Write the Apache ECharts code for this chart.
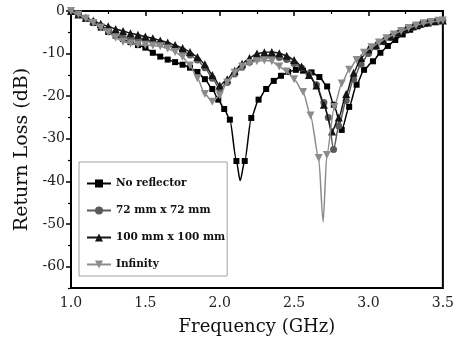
<!DOCTYPE html>
<html><head><meta charset="utf-8">
<script src="https://cdn.jsdelivr.net/npm/echarts@6/dist/echarts.min.js"></script>
<style>html,body{margin:0;padding:0;background:#fff}#c{width:457px;height:347px}</style>
</head><body><div id="c"></div>
<script>
// ---- data ----
const seriesNames = ['No reflector', '72 mm x 72 mm', '100 mm x 100 mm', 'Infinity'];

const noRefFreq = [1.00,1.05,1.10,1.15,1.20,1.25,1.30,1.35,1.40,1.45,1.50,1.55,1.60,1.65,1.70,1.75,1.80,1.85,1.90,1.95,1.99,2.03,2.068,2.112,2.168,2.212,2.261,2.312,2.363,2.412,2.46,2.512,2.56,2.617,2.67,2.722,2.767,2.82,2.87,2.92,2.97,3.03,3.08,3.13,3.18,3.23,3.28,3.33,3.38,3.43,3.48];
const noRefLoss = [0,-0.8,-1.8,-2.8,-3.9,-4.9,-5.8,-6.6,-7.3,-8.0,-8.6,-9.8,-10.7,-11.4,-12.0,-12.6,-13.3,-14.3,-16.0,-18.3,-20.8,-23.0,-25.5,-35.2,-35.2,-25.1,-20.8,-18.3,-16.4,-15.2,-14.3,-13.8,-14.0,-14.4,-15.5,-17.7,-22.0,-27.9,-22.5,-17.3,-13.8,-11.8,-9.8,-8.2,-6.8,-5.5,-4.4,-3.6,-3.0,-2.6,-2.3];
const noRefDipFreq = [2.137];
const noRefDipLoss = [-39.8];

const r72Freq = [1.00,1.05,1.10,1.15,1.20,1.25,1.30,1.35,1.40,1.45,1.50,1.55,1.60,1.65,1.70,1.75,1.80,1.85,1.90,1.95,2.00,2.05,2.10,2.15,2.20,2.25,2.30,2.35,2.40,2.45,2.50,2.55,2.60,2.65,2.70,2.73,2.765,2.80,2.85,2.90,2.95,3.00,3.05,3.10,3.15,3.20,3.25,3.30,3.35,3.40,3.45,3.50];
const r72Loss = [0,-0.8,-1.7,-2.6,-3.5,-4.4,-5.5,-6.2,-6.5,-6.6,-6.8,-7.1,-7.5,-8.0,-8.6,-9.3,-10.3,-11.5,-13.3,-15.8,-18.3,-16.8,-14.8,-13.2,-12.0,-11.2,-10.8,-10.7,-10.9,-11.4,-12.3,-13.4,-14.8,-17.3,-21.5,-25.0,-32.5,-27.0,-21.0,-16.0,-12.5,-10.0,-8.4,-7.2,-6.2,-5.3,-4.5,-3.8,-3.2,-2.8,-2.5,-2.3];

const r100Freq = [1.00,1.05,1.10,1.15,1.20,1.25,1.30,1.35,1.40,1.45,1.50,1.55,1.60,1.65,1.70,1.75,1.80,1.85,1.90,1.95,2.00,2.05,2.10,2.15,2.20,2.25,2.30,2.35,2.40,2.45,2.50,2.55,2.60,2.65,2.70,2.755,2.80,2.85,2.90,2.95,3.00,3.05,3.10,3.15,3.20,3.25,3.30,3.35,3.40,3.45,3.50];
const r100Loss = [0,-0.8,-1.6,-2.3,-3.0,-3.6,-4.2,-4.7,-5.2,-5.6,-6.0,-6.4,-6.9,-7.4,-8.0,-8.7,-9.6,-10.8,-12.5,-15.0,-17.5,-16.0,-14.0,-12.4,-11.0,-10.0,-9.7,-9.6,-9.9,-10.5,-11.5,-13.0,-15.0,-17.5,-22.0,-28.3,-25.0,-19.5,-14.5,-11.0,-9.0,-8.0,-7.0,-6.0,-5.1,-4.3,-3.6,-3.0,-2.7,-2.4,-2.2];

const infFreq = [1.00,1.05,1.10,1.15,1.20,1.25,1.30,1.35,1.40,1.45,1.50,1.55,1.60,1.65,1.70,1.75,1.80,1.85,1.90,1.95,2.00,2.05,2.10,2.15,2.20,2.25,2.30,2.35,2.40,2.45,2.50,2.56,2.61,2.665,2.72,2.77,2.82,2.87,2.92,2.97,3.02,3.07,3.12,3.17,3.22,3.27,3.32,3.37,3.42,3.47,3.50];
const infLoss = [0,-0.8,-1.8,-2.8,-3.9,-5.0,-6.3,-7.2,-7.6,-7.9,-8.0,-8.1,-8.3,-8.8,-9.6,-10.8,-12.8,-15.8,-19.5,-21.3,-19.8,-16.8,-14.5,-13.0,-12.2,-11.8,-11.6,-11.8,-13.0,-14.2,-16.0,-19.0,-24.5,-34.5,-33.8,-22.5,-17.0,-13.8,-11.5,-9.8,-8.5,-7.4,-6.4,-5.5,-4.7,-4.0,-3.4,-2.9,-2.6,-2.3,-2.2];
const infDipFreq = [2.695];
const infDipLoss = [-49.5];

const xMajorTicks = [1.0, 1.5, 2.0, 2.5, 3.0, 3.5];
const yMajorTicks = [0, -10, -20, -30, -40, -50, -60];
const yMinorTicks = [-5, -15, -25, -35, -45, -55, -65];

// ---- build ----
function build(f, v, df, dv) {
  const pts = f.map((x, i) => ({ value: [x, v[i]] }));
  (df || []).forEach((x, i) => pts.push({ value: [x, dv[i]], symbol: 'none' }));
  pts.sort((a, b) => a.value[0] - b.value[0]);
  return pts;
}
const FONT = 'DejaVu Serif';
const styles = [
  { color: '#000000', symbol: 'rect', size: 6 },
  { color: '#5a5a5a', symbol: 'circle', size: 7 },
  { color: '#151515', symbol: 'triangle', size: 8 },
  { color: '#8c8c8c', symbol: 'path://M0,0 L10,0 L5,9 Z', size: 8 }
];
const datas = [
  build(noRefFreq, noRefLoss, noRefDipFreq, noRefDipLoss),
  build(r72Freq, r72Loss),
  build(r100Freq, r100Loss),
  build(infFreq, infLoss, infDipFreq, infDipLoss)
];

const chart = echarts.init(document.getElementById('c'), null, { renderer: 'canvas' });
chart.setOption({
  animation: false,
  backgroundColor: '#fff',
  grid: { left: 71, right: 10, top: 11, bottom: 59, show: true, borderColor: '#000', borderWidth: 2 },
  legend: {
    orient: 'vertical', left: 79, top: 162,
    padding: [16, 2, 6, 7], itemGap: 16, itemWidth: 24, itemHeight: 10,
    borderColor: '#a0a0a0', borderWidth: 1, backgroundColor: '#fff',
    textStyle: { fontFamily: FONT, fontSize: 10.5, fontWeight: 'bold', color: '#111' },
    data: seriesNames
  },
  xAxis: {
    type: 'value', min: 1.0, max: 3.5, interval: 0.5,
    name: 'Frequency (GHz)', nameLocation: 'middle', nameGap: 30,
    nameTextStyle: { fontFamily: FONT, fontSize: 18, color: '#111' },
    axisLine: { lineStyle: { color: '#000', width: 2 } },
    axisTick: { show: true, length: 5, lineStyle: { color: '#000', width: 1.5 }, customValues: xMajorTicks },
    minorTick: { show: true, splitNumber: 2, length: 3, lineStyle: { color: '#000', width: 1.2 } },
    axisLabel: { fontFamily: FONT, fontSize: 14, color: '#222', margin: 8, formatter: v => v.toFixed(1), customValues: xMajorTicks },
    splitLine: { show: false }
  },
  yAxis: [{
    type: 'value', min: -65, max: 0, interval: 5,
    name: 'Return Loss (dB)', nameLocation: 'middle', nameGap: 33,
    nameTextStyle: { fontFamily: FONT, fontSize: 19, color: '#111' },
    axisLine: { lineStyle: { color: '#000', width: 2 } },
    axisTick: { show: true, length: 5, lineStyle: { color: '#000', width: 1.5 }, customValues: yMajorTicks },
    axisLabel: { fontFamily: FONT, fontSize: 14, color: '#222', margin: 6, customValues: yMajorTicks },
    splitLine: { show: false }
  }, {
    type: 'value', min: -65, max: 0, interval: 5, position: 'left',
    axisLine: { show: false },
    axisTick: { show: true, length: 3, lineStyle: { color: '#000', width: 1.2 }, customValues: yMinorTicks },
    axisLabel: { show: false },
    splitLine: { show: false }
  }],
  series: datas.map((d, i) => ({
    name: seriesNames[i], type: 'line', data: d,
    symbol: styles[i].symbol, symbolSize: styles[i].size,
    smooth: 0.25, smoothMonotone: 'x',
    lineStyle: { color: styles[i].color, width: 1.5 },
    itemStyle: { color: styles[i].color },
    z: 2 + i
  }))
});
</script></body></html>
